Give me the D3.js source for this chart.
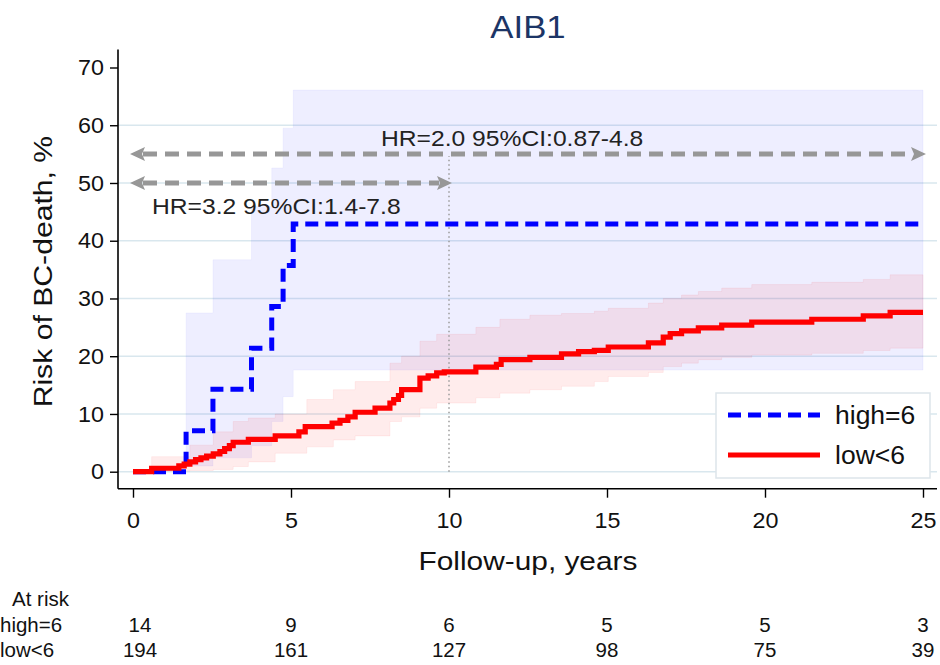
<!DOCTYPE html>
<html>
<head>
<meta charset="utf-8">
<script src="https://cdn.jsdelivr.net/npm/d3@7"></script>
<style>
  body { margin: 0; background: #fff; }
  svg { display: block; font-family: Arial, "Liberation Sans", sans-serif; }
</style>
</head>
<body>
<svg id="chart" width="940" height="665"></svg>
<script>
// cumulative risk curves (step after), % BC-death
const highTimes = [0, 1.68, 2.53, 3.75, 4.39, 4.75, 5.07, 25];
const highRisk = [0, 7.1, 14.3, 21.4, 28.6, 35.7, 42.9, 42.9];

const highCiTimes = [1.68, 2.53, 3.75, 4.39, 4.75, 5.07, 25];
const highCiLow = [1.0, 2.4, 4.5, 8.7, 13.0, 17.6, 17.6];
const highCiHigh = [27.5, 36.7, 45.9, 52.6, 59.5, 66.1, 66.1];

const lowTimes = [0, 0.59, 1.45, 1.62, 1.8, 1.98, 2.15, 2.33, 2.54, 2.75, 2.9, 3.05, 3.17, 3.65, 4.5, 5.25, 5.45, 6.3, 6.55, 6.8, 7.03, 7.66, 8.13, 8.25, 8.4, 8.5, 9.08, 9.34, 9.61, 9.85, 10.85, 11.5, 11.65, 12.56, 13.56, 14.1, 14.6, 15.04, 16.31, 16.78, 17.0, 17.36, 17.89, 18.63, 19.58, 21.48, 23.11, 23.96, 25];
const lowRisk = [0, 0.6, 1.0, 1.3, 1.7, 2.1, 2.4, 2.7, 3.1, 3.5, 4.0, 4.5, 5.1, 5.6, 6.2, 6.9, 7.8, 8.4, 8.9, 9.5, 10.3, 11.0, 11.9, 12.5, 13.2, 14.2, 16.2, 16.6, 17.1, 17.3, 18.1, 18.6, 19.4, 19.8, 20.4, 20.8, 21.0, 21.6, 22.3, 23.3, 23.9, 24.4, 24.9, 25.4, 25.9, 26.4, 27.0, 27.6, 27.6];

const lowCiTimes = [0.59, 1.8, 2.54, 3.17, 3.65, 4.5, 5.5, 6.34, 7.03, 8.13, 8.5, 9.08, 9.61, 10.85, 11.61, 12.56, 13.56, 14.6, 15.04, 16.31, 16.78, 17.36, 17.89, 18.63, 19.58, 21.48, 23.11, 23.96, 25];
const lowCiLow = [0.1, 0.2, 0.4, 0.9, 1.7, 3.2, 4.3, 5.5, 6.2, 8.7, 9.5, 11.0, 11.9, 12.8, 13.6, 14.2, 14.8, 15.6, 16.5, 17.2, 18.2, 18.8, 19.4, 19.8, 20.2, 20.5, 21.0, 21.4, 21.4];
const lowCiHigh = [2.6, 4.6, 6.9, 8.7, 9.3, 10.0, 12.5, 14.2, 15.6, 18.8, 20.0, 22.6, 23.8, 25.0, 26.4, 27.1, 27.4, 27.8, 28.3, 29.2, 30.0, 30.6, 31.2, 31.8, 32.4, 32.8, 33.3, 34.1, 34.1];

// hazard ratio annotations
const hrFrom = [0, 0];
const hrTo = [25, 10];
const hrLevel = [55, 50];
const hrText = ["HR=2.0 95%CI:0.87-4.8", "HR=3.2 95%CI:1.4-7.8"];

// at-risk table
const riskTimes = [0, 5, 10, 15, 20, 25];
const highAtRisk = [14, 9, 6, 5, 5, 3];
const lowAtRisk = [194, 161, 127, 98, 75, 39];

const xTicks = [0, 5, 10, 15, 20, 25];
const yTicks = [0, 10, 20, 30, 40, 50, 60, 70];
const gridTicks = [0, 10, 20, 30, 40, 50, 60];

const svg = d3.select("#chart");

const xScale = d3.scaleLinear().domain([0, 25]).range([133, 923]);
const yScale = d3.scaleLinear().domain([0, 70]).range([471.7, 67.5]);

const axisX = xScale.range()[0] - 15;   // y axis line position
const axisY = yScale(0) + 17;           // x axis line position

const blue = "#0000ff";
const red = "#ff0000";

// the original text is a bit wider than Arial at the same height
function widen(sel, k) {
  sel.each(function () {
    const w = this.getComputedTextLength();
    d3.select(this)
      .attr("textLength", w * k)
      .attr("lengthAdjust", "spacingAndGlyphs");
  });
}

// grid
svg.append("g")
  .selectAll("line")
  .data(gridTicks)
  .enter()
  .append("line")
  .attr("x1", axisX)
  .attr("x2", xScale(25) + 14)
  .attr("y1", (d) => yScale(d))
  .attr("y2", (d) => yScale(d))
  .attr("stroke", "#d9e7ee")
  .attr("stroke-width", 1.6);

// confidence bands
function band(times, lo, hi) {
  return d3.area()
    .curve(d3.curveStepAfter)
    .x((d, i) => xScale(times[i]))
    .y0((d, i) => yScale(lo[i]))
    .y1((d, i) => yScale(hi[i]))(times);
}

svg.append("path")
  .attr("d", band(highCiTimes, highCiLow, highCiHigh))
  .attr("fill", blue)
  .attr("fill-opacity", 0.065)
  .attr("stroke", blue)
  .attr("stroke-opacity", 0.04);

svg.append("path")
  .attr("d", band(lowCiTimes, lowCiLow, lowCiHigh))
  .attr("fill", red)
  .attr("fill-opacity", 0.075)
  .attr("stroke", red)
  .attr("stroke-opacity", 0.06);

// vertical reference at 10 years
svg.append("line")
  .attr("x1", xScale(10))
  .attr("x2", xScale(10))
  .attr("y1", yScale(0))
  .attr("y2", yScale(hrLevel[0]) + 2)
  .attr("stroke", "#9a9a9a")
  .attr("stroke-width", 1.5)
  .attr("stroke-dasharray", "1.5,3");

// arrow markers
const defs = svg.append("defs");
["arrowEnd", "arrowStart"].forEach((id, k) => {
  defs.append("marker")
    .attr("id", id)
    .attr("markerUnits", "userSpaceOnUse")
    .attr("viewBox", "0 -8 16 16")
    .attr("refX", 2)
    .attr("refY", 0)
    .attr("markerWidth", 16)
    .attr("markerHeight", 16)
    .attr("orient", k === 0 ? "auto" : "auto-start-reverse")
    .append("path")
    .attr("d", "M0,-7 L15,0 L0,7 L3,0 Z")
    .attr("fill", "#979797");
});

const hr = svg.append("g");
hrLevel.forEach((lvl, i) => {
  hr.append("line")
    .attr("x1", xScale(hrFrom[i]) + 10)
    .attr("x2", xScale(hrTo[i]) - 10)
    .attr("y1", yScale(lvl))
    .attr("y2", yScale(lvl))
    .attr("stroke", "#979797")
    .attr("stroke-width", 5)
    .attr("stroke-dasharray", "14,8")
    .attr("marker-end", "url(#arrowEnd)")
    .attr("marker-start", "url(#arrowStart)");
});
hr.append("text")
  .attr("x", 381)
  .attr("y", yScale(hrLevel[0]) - 8)
  .attr("font-size", 22)
  .attr("fill", "#222")
  .text(hrText[0])
  .call(widen, 1.12);
hr.append("text")
  .attr("x", 152)
  .attr("y", yScale(hrLevel[1]) + 31)
  .attr("font-size", 22)
  .attr("fill", "#222")
  .text(hrText[1])
  .call(widen, 1.12);

// KM curves
function curve(times, vals) {
  return d3.line()
    .curve(d3.curveStepAfter)
    .x((d, i) => xScale(times[i]))
    .y((d, i) => yScale(vals[i]))(times);
}

svg.append("path")
  .attr("d", curve(highTimes, highRisk))
  .attr("fill", "none")
  .attr("stroke", blue)
  .attr("stroke-width", 5)
  .attr("stroke-dasharray", "13,7");

svg.append("path")
  .attr("d", curve(lowTimes, lowRisk))
  .attr("fill", "none")
  .attr("stroke", red)
  .attr("stroke-width", 5.2);

// axes
const yAxis = svg.append("g")
  .attr("transform", `translate(${axisX},0)`)
  .call(d3.axisLeft(yScale).tickValues(yTicks).tickSize(8).tickPadding(6));
yAxis.select(".domain").remove();
yAxis.append("line")
  .attr("x1", 0).attr("x2", 0)
  .attr("y1", yScale(70) - 18).attr("y2", axisY)
  .attr("stroke", "#000").attr("stroke-width", 1.6);

const xAxis = svg.append("g")
  .attr("transform", `translate(0,${axisY})`)
  .call(d3.axisBottom(xScale).tickValues(xTicks).tickSize(9).tickPadding(15));
xAxis.select(".domain").remove();
xAxis.append("line")
  .attr("x1", axisX).attr("x2", xScale(25) + 14)
  .attr("y1", 0).attr("y2", 0)
  .attr("stroke", "#000").attr("stroke-width", 1.6);

svg.selectAll(".tick line").attr("stroke", "#000").attr("stroke-width", 1.4);
svg.selectAll(".tick text")
  .attr("font-size", 22)
  .attr("font-family", "Arial, 'Liberation Sans', sans-serif")
  .attr("fill", "#111")
  .call(widen, 1.06);

// titles
svg.append("text")
  .attr("x", 528)
  .attr("y", 38)
  .attr("text-anchor", "middle")
  .attr("font-size", 31)
  .attr("fill", "#1c3566")
  .text("AIB1")
  .call(widen, 1.12);

svg.append("text")
  .attr("transform", `translate(52,${(yScale(0) + yScale(70)) / 2 + 2}) rotate(-90)`)
  .attr("text-anchor", "middle")
  .attr("font-size", 26)
  .attr("fill", "#111")
  .text("Risk of BC-death, %")
  .call(widen, 1.16);

svg.append("text")
  .attr("x", xScale(12.5))
  .attr("y", 570)
  .attr("text-anchor", "middle")
  .attr("font-size", 25.5)
  .attr("fill", "#111")
  .text("Follow-up, years")
  .call(widen, 1.17);

// legend
const legend = svg.append("g").attr("transform", "translate(716,393)");
legend.append("rect")
  .attr("width", 214)
  .attr("height", 85)
  .attr("fill", "#fff")
  .attr("stroke", "#dde5ea")
  .attr("stroke-width", 1.5);
const legendItems = [
  { label: "high=6", color: blue, dash: "13,7" },
  { label: "low<6", color: red, dash: null }
];
legendItems.forEach((d, i) => {
  const g = legend.append("g").attr("transform", `translate(0,${22 + i * 40})`);
  g.append("line")
    .attr("x1", 12).attr("x2", 104)
    .attr("stroke", d.color)
    .attr("stroke-width", 5)
    .attr("stroke-dasharray", d.dash);
  g.append("text")
    .attr("x", 119)
    .attr("y", 9)
    .attr("font-size", 25)
    .attr("fill", "#111")
    .text(d.label)
    .call(widen, 1.06);
});

// at-risk table
const table = svg.append("g").attr("font-size", 20.5).attr("fill", "#111");
table.append("text").attr("x", 12).attr("y", 606).text("At risk");
[["high=6", highAtRisk], ["low<6", lowAtRisk]].forEach(([name, counts], r) => {
  const yy = 632 + r * 25;
  table.append("text").attr("x", 0).attr("y", yy).text(name);
  table.selectAll(null)
    .data(counts)
    .enter()
    .append("text")
    .attr("x", (d, i) => xScale(riskTimes[i]) + (i === 0 ? 7 : 0))
    .attr("y", yy)
    .attr("text-anchor", "middle")
    .text((d) => d);
});
</script>
</body>
</html>
